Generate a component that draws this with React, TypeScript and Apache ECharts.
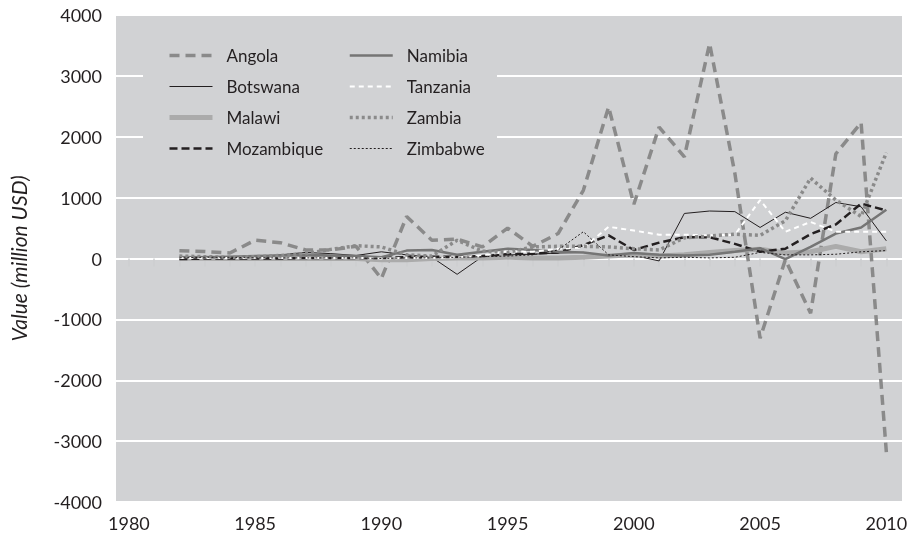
import React, { useEffect, useRef } from "react";
import * as echarts from "echarts";

const years = [1982,1983,1984,1985,1986,1987,1988,1989,1990,1991,1992,1993,1994,1995,1996,1997,1998,1999,2000,2001,2002,2003,2004,2005,2006,2007,2008,2009,2010];
const xTicks = [1980,1981,1982,1983,1984,1985,1986,1987,1988,1989,1990,1991,1992,1993,1994,1995,1996,1997,1998,1999,2000,2001,2002,2003,2004,2005,2006,2007,2008,2009,2010];
const xLabels = [1980,1985,1990,1995,2000,2005,2010];

const angola = [128,115,90,300,260,140,140,200,-330,690,300,320,190,500,200,410,1120,2490,890,2160,1670,3530,1400,-1310,-20,-900,1720,2230,-3180];
const botswana = [0,10,20,30,60,100,80,50,110,60,20,-260,30,60,70,90,100,40,50,-40,740,780,770,510,760,660,920,850,290];
const malawi = [5,5,0,0,0,0,0,0,-20,-20,0,10,10,20,10,10,20,40,60,40,60,100,130,150,90,110,200,110,160];
const mozambique = [-10,0,0,0,0,10,10,10,10,20,30,30,40,70,80,100,220,380,140,260,350,350,240,110,160,400,560,900,790];
const namibia = [20,20,30,40,50,60,50,40,20,130,140,60,110,160,140,110,100,50,90,60,50,60,110,170,-10,190,410,510,800];
const tanzania = [10,10,10,10,10,10,10,10,0,10,10,20,50,120,110,160,180,520,460,390,390,380,390,960,440,600,440,440,440];
const zambia = [40,30,20,30,50,80,150,210,190,60,40,300,120,100,190,200,200,190,160,140,340,370,400,380,620,1320,960,690,1740];
const zimbabwe = [10,20,20,10,10,10,10,10,0,10,10,20,30,40,60,140,440,60,30,10,20,10,20,100,60,60,70,110,130];

const BG = "#d1d2d4";
const TXT = "#231f20";
const FONT = "Lato, 'Open Sans', sans-serif";

const pairs = (vals: number[]) => years.map((y, i) => [y, vals[i]]);

export default function App() {
  const ref = useRef<HTMLDivElement>(null);
  useEffect(() => {
    if (!ref.current) return;
    const chart = echarts.init(ref.current, null, { renderer: "svg" });
    const mk = (name: string, vals: number[], color: string, width: number, type: any) => ({
      name,
      type: "line",
      data: pairs(vals),
      symbol: "none",
      showSymbol: false,
      lineStyle: { color, width, type, cap: "butt" },
      itemStyle: { color },
    });
    const legendCommon = {
      orient: "vertical",
      top: 47,
      itemWidth: 43,
      itemHeight: 14,
      itemGap: 14,
      padding: 0,
      itemStyle: { opacity: 0 },
      lineStyle: { width: "inherit" },
      textStyle: { fontFamily: FONT, fontSize: 17, color: TXT, padding: [0, 0, 0, 9] },
    };
    chart.setOption({
      animation: false,
      textStyle: { fontFamily: FONT },
      grid: {
        left: 104,
        right: 13,
        top: 15,
        bottom: 39,
        show: true,
        backgroundColor: BG,
        borderWidth: 0,
        containLabel: false,
      },
      legend: [
        { ...legendCommon, left: 167, data: ["Angola", "Botswana", "Malawi", "Mozambique"] },
        { ...legendCommon, left: 348, data: ["Namibia", "Tanzania", "Zambia", "Zimbabwe"] },
      ],
      graphic: [
        {
          type: "rect",
          z: 3,
          shape: { x: 143, y: 17, width: 354, height: 166 },
          style: { fill: BG },
          silent: true,
        },
      ],
      xAxis: {
        type: "value",
        min: 1979.49,
        max: 2010.62,
        axisLine: { show: false },
        axisTick: {
          show: true,
          customValues: xTicks,
          length: 8,
          lineStyle: { color: "#cdced0", width: 1.5 },
        },
        axisLabel: {
          customValues: xLabels,
          formatter: (v: number) => String(Math.round(v)),
          fontSize: 18,
          color: TXT,
          margin: 12,
          fontFamily: FONT,
        },
        splitLine: { show: false },
      },
      yAxis: {
        type: "value",
        min: -4000,
        max: 4000,
        interval: 1000,
        name: "Value (million USD)",
        nameLocation: "middle",
        nameGap: 87,
        nameTextStyle: { fontSize: 21, fontStyle: "italic", color: TXT, fontFamily: FONT },
        axisLine: { show: false },
        axisTick: { show: false },
        axisLabel: {
          fontSize: 18,
          color: TXT,
          margin: 14,
          fontFamily: FONT,
          formatter: (v: number) => String(v),
        },
        splitLine: { show: true, lineStyle: { color: "#ffffff", width: 2 } },
      },
      series: [
        mk("Angola", angola, "#8a8a8a", 3.5, [10, 6]),
        mk("Botswana", botswana, TXT, 1, "solid"),
        mk("Malawi", malawi, "#ababab", 5, "solid"),
        mk("Mozambique", mozambique, TXT, 2.5, [8, 4]),
        mk("Namibia", namibia, "#757575", 2.5, "solid"),
        mk("Tanzania", tanzania, "#ffffff", 2, [5, 4]),
        mk("Zambia", zambia, "#8a8a8a", 3.5, [3, 3]),
        mk("Zimbabwe", zimbabwe, TXT, 1, [2, 2]),
      ],
    });
    return () => chart.dispose();
  }, []);
  return (
    <div
      ref={ref}
      style={{ position: "fixed", left: 0, top: 0, width: 915, height: 541 }}
    />
  );
}
